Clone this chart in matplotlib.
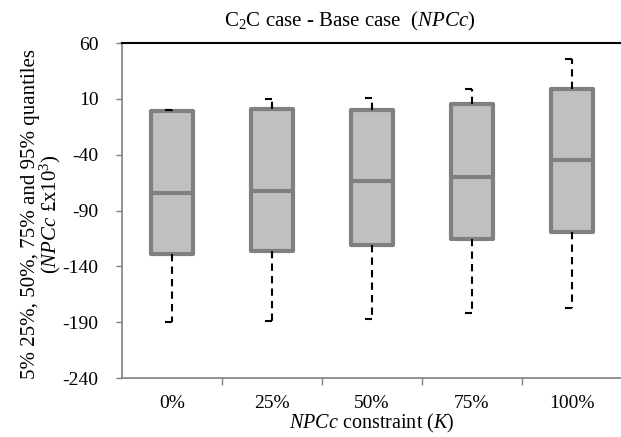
import matplotlib
matplotlib.use("Agg")
import matplotlib.pyplot as plt

plt.rcParams['font.family'] = 'Liberation Serif'
plt.rcParams['mathtext.fontset'] = 'custom'
plt.rcParams['mathtext.rm'] = 'Liberation Serif'
plt.rcParams['mathtext.it'] = 'Liberation Serif:italic'
plt.rcParams['axes.unicode_minus'] = False

# quantiles (NPCc, £x10^3)
categories = ['0%', '25%', '50%', '75%', '100%']
q05 = [-189.5, -188.6, -187.0, -181.4, -177.5]
q25 = [-129.0, -126.0, -120.8, -115.5, -109.5]
q50 = [-74.0, -72.8, -63.5, -59.7, -44.7]
q75 = [-1.0, 0.6, 0.0, 5.4, 19.0]
q95 = [0.0, 9.6, 10.5, 18.5, 45.4]

yticks = [-240, -190, -140, -90, -40, 10, 60]

fig = plt.figure(figsize=(6.21, 4.37), dpi=100)
ax = fig.add_axes([0.1965, 0.135, 0.805, 0.7666])

stats = []
for i in range(len(categories)):
    stats.append({'med': q50[i], 'q1': q25[i], 'q3': q75[i],
                  'whislo': q05[i], 'whishi': q95[i], 'fliers': []})

pos = list(range(1, len(categories) + 1))
ax.bxp(stats, positions=pos, widths=0.42, patch_artist=True, showcaps=False,
       showfliers=False,
       boxprops=dict(facecolor='#c0c0c0', edgecolor='#808080', linewidth=3,
                     joinstyle='round'),
       medianprops=dict(color='#808080', linewidth=3),
       whiskerprops=dict(color='black', linewidth=1.5, linestyle=(0, (3.5, 2.5))))

# half caps on the whiskers, as in the original
ax.hlines(q05, [p - 0.07 for p in pos], pos, color='black', linewidth=1.5)
ax.hlines(q95, [p - 0.07 for p in pos], pos, color='black', linewidth=1.5)

ax.set_xlim(0.5, len(categories) + 0.5)
ax.set_ylim(-240, 60)
ax.set_yticks(yticks)
ax.set_xticks(pos)
ax.set_xticklabels(categories)
ax.set_xticks([p + 0.5 for p in pos[:-1]], minor=True)
ax.tick_params(axis='x', which='major', length=0, labelsize=14, pad=12)
ax.tick_params(axis='x', which='minor', length=5, color='#808080', width=1)
ax.tick_params(axis='y', which='major', length=4, color='#808080', width=1,
               labelsize=14, pad=13)

for s in ['left', 'bottom']:
    ax.spines[s].set_color('#808080')
    ax.spines[s].set_linewidth(1.2)
ax.spines['top'].set_color('black')
ax.spines['top'].set_linewidth(1.5)
ax.spines['right'].set_visible(False)

ax.set_title(r'C$_2$C case - Base case  ($NPCc$)', fontsize=15, pad=12, x=0.455)
ax.set_xlabel(r'$NPCc$ constraint ($K$)', fontsize=14.5, labelpad=0)
fig.text(42 / 621, 1 - 214 / 437,
         '5% 25%, 50%, 75% and 95% quantiles\n' + r'($NPCc$ £x10$^3$)',
         rotation=90, ha='center', va='center', multialignment='center',
         fontsize=15, linespacing=0.85)

fig.savefig('out.png', dpi=100)
